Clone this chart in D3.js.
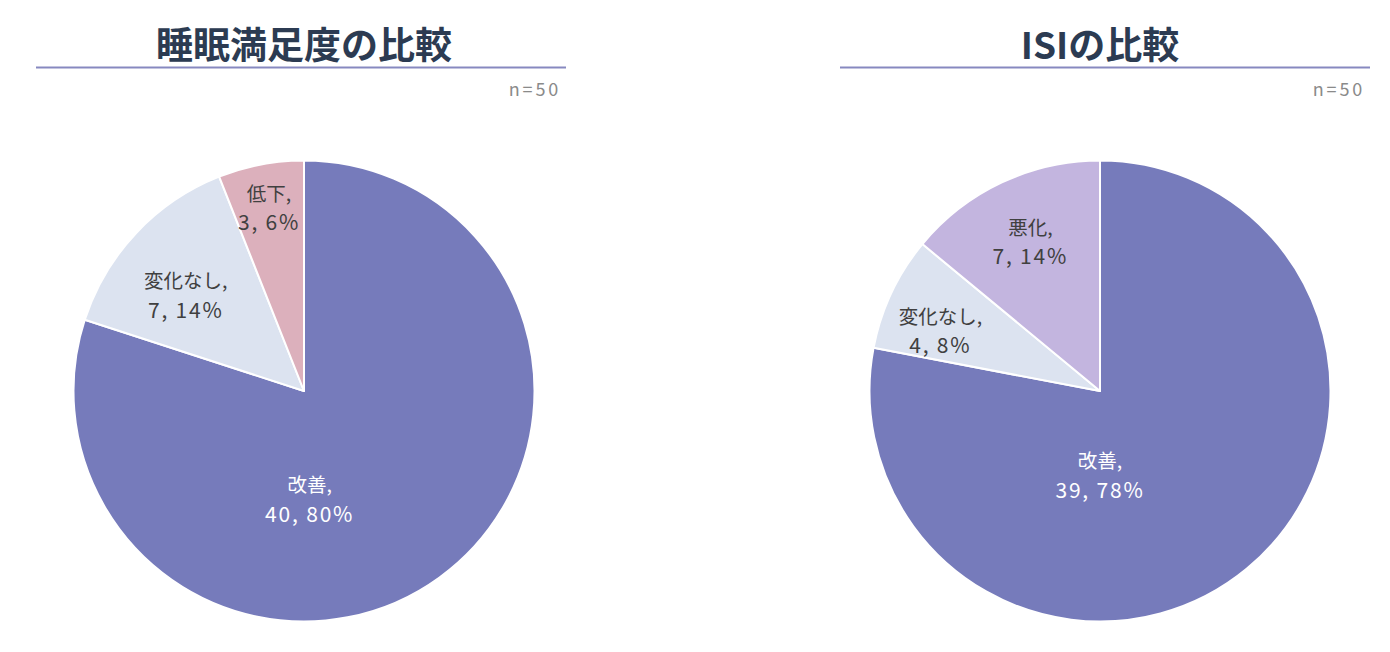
<!DOCTYPE html>
<html><head><meta charset="utf-8">
<script src="https://cdn.jsdelivr.net/npm/d3@7"></script>
<style>
html,body{margin:0;padding:0;background:#fff;}
svg{display:block;font-family:"Noto Sans CJK JP","Noto Sans",sans-serif;}
</style></head>
<body>
<svg id="c" width="1390" height="652"></svg>
<script>
// ---- data ----
const titles = ["睡眠満足度の比較", "ISIの比較"];
const sampleLabel = "n=50";
const leftCategories = ["改善", "変化なし", "低下"];
const leftValues = [40, 7, 3];
const rightCategories = ["改善", "変化なし", "悪化"];
const rightValues = [39, 4, 7];

// ---- styles / layout ----
const leftColors = ["#767bbb", "#dce3f0", "#dcb0bc"];
const rightColors = ["#767bbb", "#dce3f0", "#c3b5df"];
const textColors = ["#ffffff", "#404040", "#404040"];

const svg = d3.select("#c");
const deg = Math.PI / 180;

function drawChart(cfg){
  const g = svg.append("g");
  g.append("text").attr("x", cfg.cx).attr("y", 59).attr("text-anchor","middle")
    .attr("font-size", 37).attr("font-weight", 700).attr("fill", "#2c3b52")
    .text(cfg.title);
  g.append("line").attr("x1", cfg.lineX0).attr("x2", cfg.lineX1)
    .attr("y1", 67.5).attr("y2", 67.5).attr("stroke", "#8789c0").attr("stroke-width", 2);
  g.append("text").attr("x", cfg.lineX1 - 5).attr("y", 96).attr("text-anchor","end")
    .attr("font-size", 18).attr("letter-spacing", 2.8).attr("fill", "#8a8a8a").text(sampleLabel);

  const total = d3.sum(cfg.values);
  const data = cfg.categories.map((c,i)=>({cat:c, value:cfg.values[i], i}));
  const pie = d3.pie().value(d=>d.value).sort(null);
  const arcs = pie(data);
  const r = 230.5;
  const arc = d3.arc().innerRadius(0).outerRadius(r);
  const pg = g.append("g").attr("transform", `translate(${cfg.cx},${cfg.cy})`);
  pg.selectAll("path").data(arcs).enter().append("path")
    .attr("d", arc).attr("fill", d=>cfg.colors[d.data.i])
    .attr("stroke", "#fff").attr("stroke-width", 2).attr("stroke-linejoin","round");

  const lbl = pg.selectAll("g.lbl").data(arcs).enter().append("g").attr("class","lbl")
    .attr("transform", d=>{
      const p = cfg.labelPos[d.data.i];
      const a = p.angle !== undefined ? p.angle : (d.startAngle + d.endAngle)/2;
      const rr = p.rf * r;
      return `translate(${Math.sin(a)*rr},${-Math.cos(a)*rr})`;
    });
  lbl.append("text").attr("text-anchor","middle").attr("y", -7)
    .attr("font-size", 19.5).attr("fill", d=>textColors[d.data.i])
    .text(d=>d.data.cat + ",");
  lbl.append("text").attr("text-anchor","middle").attr("y", 22.5)
    .attr("font-size", 21).attr("letter-spacing", 1.8).attr("fill", d=>textColors[d.data.i])
    .text(d=>`${d.data.value}, ${Math.round(d.data.value/total*100)}%`);
}

drawChart({title:titles[0], categories:leftCategories, values:leftValues, colors:leftColors,
  cx:304, cy:391, lineX0:36, lineX1:566,
  labelPos:[{angle:177*deg, rf:0.47}, {angle:309*deg, rf:0.66}, {rf:0.81}]});
drawChart({title:titles[1], categories:rightCategories, values:rightValues, colors:rightColors,
  cx:1100, cy:391, lineX0:840, lineX1:1370,
  labelPos:[{angle:180*deg, rf:0.365}, {angle:290.6*deg, rf:0.74}, {angle:335*deg, rf:0.715}]});
</script>
</body></html>
